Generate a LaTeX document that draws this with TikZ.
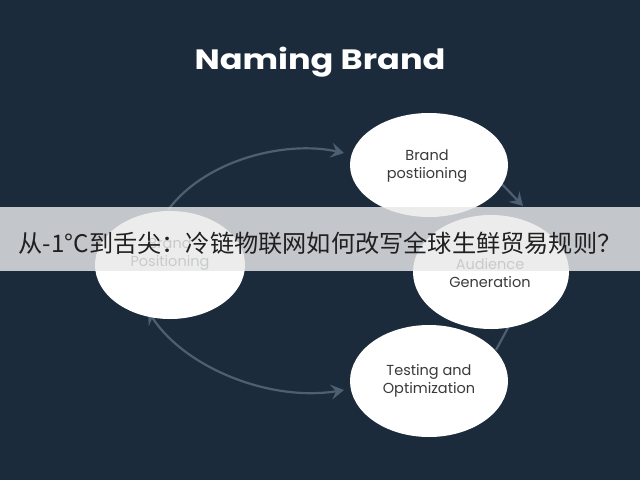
\documentclass[tikz,border=0pt]{standalone}
\usepackage{fontspec}
\setmainfont{Poppins}
\newfontfamily\cjk{Noto Sans CJK SC}
\usetikzlibrary{arrows.meta,shapes.geometric}
\definecolor{bg}{HTML}{1C2B3B}
\definecolor{arr}{HTML}{4E5F73}
\definecolor{txt}{HTML}{3A3A3A}
\definecolor{band}{HTML}{E8E9EA}
\definecolor{bandtxt}{HTML}{202020}
\begin{document}
\begin{tikzpicture}[x=1pt,y=-1pt,
  bubble/.style={ellipse, fill=white, draw=none, inner sep=0pt},
  lbl/.style={align=center, text=txt, font=\fontsize{14.5}{18.5}\selectfont},
  conn/.style={draw=arr, line width=2.2pt, -{Stealth[length=13pt,width=15pt,inset=5pt]}},
  conn2/.style={draw=arr, line width=2.2pt, {Stealth[length=13pt,width=15pt,inset=5pt]}-{Stealth[length=13pt,width=15pt,inset=5pt]}},
  plain/.style={draw=arr, line width=2.2pt}]
\fill[bg] (0,0) rectangle (640,480);
\useasboundingbox (0,0) rectangle (640,480);

\node[text=white, font=\bfseries\fontsize{28}{32}\selectfont] (title) at (320,62) {\scalebox{1.2}[1]{Naming Brand}};

% connector end points
\coordinate (a1s) at (168,210);
\coordinate (a1e) at (344,153);
\coordinate (a2s) at (148,311);
\coordinate (a2e) at (344,390);
\coordinate (a3s) at (498,180);
\coordinate (a3e) at (523,206);
\coordinate (a4s) at (509,326);
\coordinate (a4e) at (496,350);

\draw[conn] (a1s) .. controls (205,160) and (285,140) .. (a1e);
\draw[conn2] (a2s) .. controls (185,368) and (270,402) .. (a2e);
\draw[conn] (a3s) -- (a3e);
\draw[plain] (a4s) -- (a4e);

\node[bubble, minimum width=150pt, minimum height=108pt] (pos) at (170,265) {};
\node[bubble, minimum width=158pt, minimum height=104pt] (bp) at (429,165) {};
\node[bubble, minimum width=156pt, minimum height=114pt] (aud) at (491,272) {};
\node[bubble, minimum width=158pt, minimum height=112pt] (test) at (429,381) {};

\node[lbl] (posT) at (170,254) {Brand\\Positioning};
\node[lbl] (bpT) at (427,166) {Brand\\postiioning};
\node[lbl] (audT) at (490,273) {Audience\\Generation};
\node[lbl] (testT) at (429,381) {Testing and\\Optimization};

\fill[band, opacity=0.82] (0,207) rectangle (640,271);
\node[text=bandtxt, font=\cjk\fontsize{24.2}{28}\selectfont, inner sep=0pt] (banner) at (320,243) {从-1°C到舌尖：冷链物联网如何改写全球生鲜贸易规则？};
\end{tikzpicture}
\end{document}
